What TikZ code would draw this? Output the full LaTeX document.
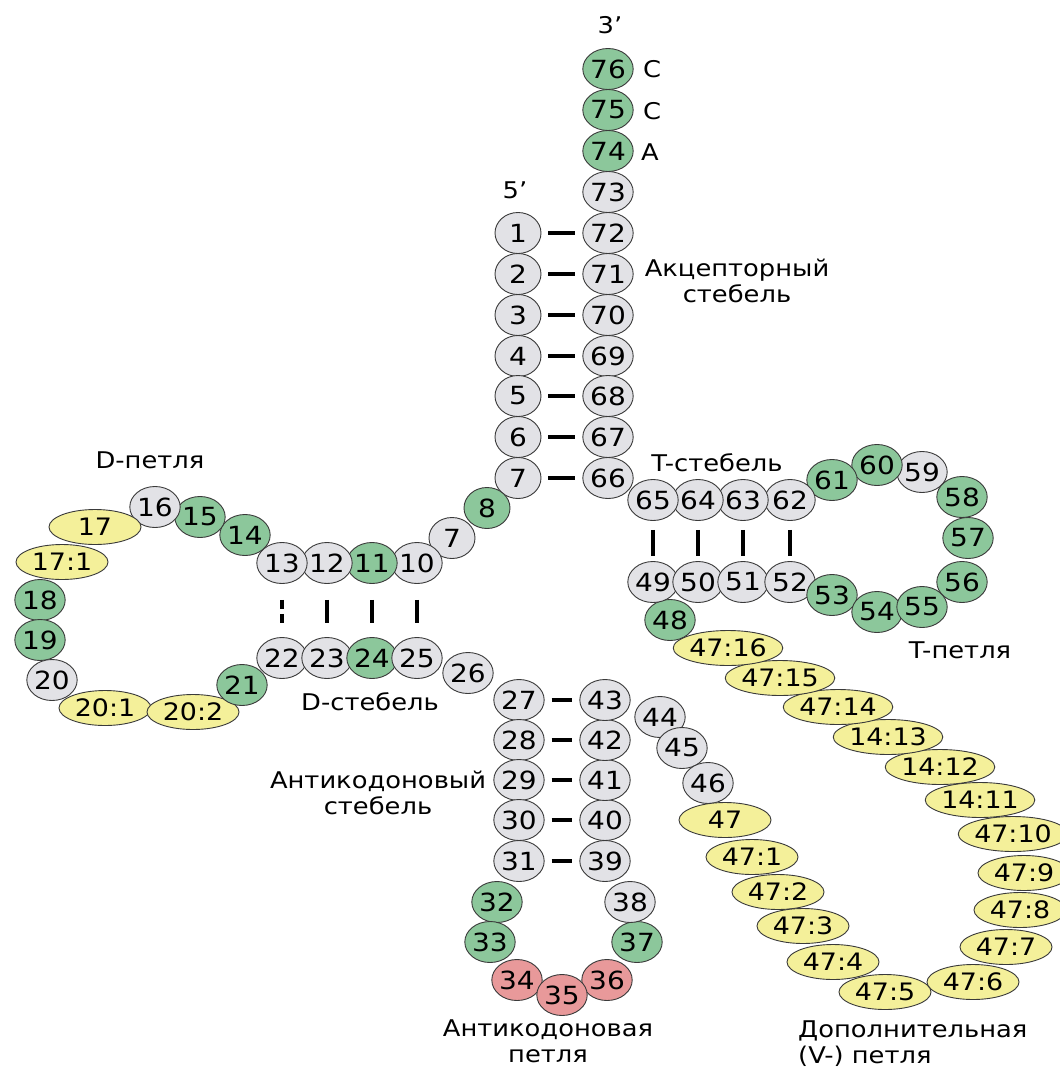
\documentclass[tikz,border=0pt]{standalone}
\usepackage{fontspec}
\setmainfont{DejaVu Sans}[FakeStretch=1.12]
\usetikzlibrary{shapes.geometric}
\definecolor{grfill}{HTML}{E2E2E6}
\definecolor{gnfill}{HTML}{8CC79B}
\definecolor{rdfill}{HTML}{E8999A}
\definecolor{ylfill}{HTML}{F4F09A}
\definecolor{edge}{HTML}{3A3A3A}
\begin{document}
\begin{tikzpicture}[x=1pt,y=-1pt,
  base/.style={ellipse,draw=edge,line width=0.9pt,inner sep=0pt,minimum width=46pt,minimum height=41pt,font=\fontsize{25}{25}\selectfont},
  gr/.style={base,fill=grfill},
  gn/.style={base,fill=gnfill},
  rd/.style={base,fill=rdfill},
  yl/.style={base,fill=ylfill,minimum width=92pt,minimum height=35pt,font=\fontsize{24}{24}\selectfont},
  pairh/.style={line width=3.2pt,shorten <=7pt,shorten >=7pt},
  pairv/.style={line width=3.2pt,shorten <=16pt,shorten >=14pt},
  pairt/.style={line width=3.2pt,shorten <=9pt,shorten >=5pt},
  lbl/.style={font=\fontsize{23}{26}\selectfont,align=center,inner sep=0pt}]
\useasboundingbox (0,0) rectangle (1060,1071);
\fill[white] (0,0) rectangle (1060,1071);

% acceptor stem
\node[gn] (n76) at (608,69) {76};
\node[gn] (n75) at (608,110) {75};
\node[gn] (n74) at (608,151) {74};
\node[gr] (n73) at (608,192) {73};
\node[gr] (n72) at (608,233) {72};
\node[gr] (n71) at (608,274) {71};
\node[gr] (n70) at (608,315) {70};
\node[gr] (n69) at (608,356) {69};
\node[gr] (n68) at (608,396) {68};
\node[gr] (n67) at (608,437) {67};
\node[gr] (n66) at (608,478) {66};
\node[gr] (n1) at (518,233) {1};
\node[gr] (n2) at (518,274) {2};
\node[gr] (n3) at (518,315) {3};
\node[gr] (n4) at (518,356) {4};
\node[gr] (n5) at (518,396) {5};
\node[gr] (n6) at (518,437) {6};
\node[gr] (n7) at (518,478) {7};

% D arm
\node[gn] (n8) at (487,508) {8};
\node[gr] (n9) at (452,538) {7};
\node[gr] (n10) at (417,563) {10};
\node[gn] (n11) at (372,563) {11};
\node[gr] (n12) at (327,563) {12};
\node[gr] (n13) at (282,563) {13};
\node[gn] (n14) at (245,535) {14};
\node[gn] (n15) at (200,517) {15};
\node[gr] (n16) at (155,507) {16};
\node[yl] (n17) at (95,527) {17};
\node[yl] (n171) at (62,562) {17:1};
\node[gn] (n18) at (40,600) {18};
\node[gn] (n19) at (40,640) {19};
\node[gr] (n20) at (52,680) {20};
\node[yl] (n201) at (105,708) {20:1};
\node[yl] (n202) at (193,712) {20:2};
\node[gn] (n21) at (242,685) {21};
\node[gr] (n22) at (282,658) {22};
\node[gr] (n23) at (327,658) {23};
\node[gn] (n24) at (372,658) {24};
\node[gr] (n25) at (417,658) {25};
\node[gr] (n26) at (468,673) {26};

% anticodon arm
\node[gr] (n27) at (519,700) {27};
\node[gr] (n28) at (519,740) {28};
\node[gr] (n29) at (519,780) {29};
\node[gr] (n30) at (519,820) {30};
\node[gr] (n31) at (519,861) {31};
\node[gn] (n32) at (497,902) {32};
\node[gn] (n33) at (490,942) {33};
\node[rd] (n34) at (517,980) {34};
\node[rd] (n36) at (607,980) {36};
\node[rd] (n35) at (562,995) {35};
\node[gn] (n37) at (637,942) {37};
\node[gr] (n38) at (630,902) {38};
\node[gr] (n39) at (605,861) {39};
\node[gr] (n40) at (605,820) {40};
\node[gr] (n41) at (605,780) {41};
\node[gr] (n42) at (605,740) {42};
\node[gr] (n43) at (605,700) {43};
\node[gr] (n44) at (660,717) {44};
\node[gr] (n45) at (682,748) {45};
\node[gr] (n46) at (708,783) {46};

% variable loop
\node[yl] (v47) at (725,820) {47};
\node[yl] (v471) at (752,857) {47:1};
\node[yl] (v472) at (778,892) {47:2};
\node[yl] (v473) at (803,926) {47:3};
\node[yl] (v474) at (833,962) {47:4};
\node[yl] (v476) at (973,982) {47:6};
\node[yl] (v475) at (885,992) {47:5};
\node[yl] (v477) at (1006,947) {47:7};
\node[yl] (v478) at (1020,910) {47:8};
\node[yl] (v479) at (1024,873) {47:9};
\node[yl] (v4710) at (1013,834) {47:10};
\node[yl] (v1411) at (980,800) {14:11};
\node[yl] (v1412) at (940,767) {14:12};
\node[yl] (v1413) at (888,737) {14:13};
\node[yl] (v4714) at (838,707) {47:14};
\node[yl] (v4715) at (780,678) {47:15};
\node[yl] (v4716) at (728,648) {47:16};

% T arm
\node[gn] (n48) at (670,620) {48};
\node[gr] (n49) at (653,582) {49};
\node[gr] (n50) at (698,582) {50};
\node[gr] (n51) at (743,582) {51};
\node[gr] (n52) at (790,582) {52};
\node[gn] (n53) at (832,595) {53};
\node[gn] (n54) at (877,612) {54};
\node[gn] (n55) at (922,607) {55};
\node[gn] (n56) at (962,582) {56};
\node[gn] (n57) at (968,538) {57};
\node[gn] (n58) at (962,497) {58};
\node[gr] (n59) at (922,472) {59};
\node[gn] (n60) at (877,465) {60};
\node[gn] (n61) at (832,480) {61};
\node[gr] (n62) at (790,500) {62};
\node[gr] (n63) at (743,500) {63};
\node[gr] (n64) at (698,500) {64};
\node[gr] (n65) at (653,500) {65};

% base pairs
\draw[pairh] (n1) -- (n72);
\draw[pairh] (n2) -- (n71);
\draw[pairh] (n3) -- (n70);
\draw[pairh] (n4) -- (n69);
\draw[pairh] (n5) -- (n68);
\draw[pairh] (n6) -- (n67);
\draw[pairh] (n7) -- (n66);
\draw[pairh] (n27) -- (n43);
\draw[pairh] (n28) -- (n42);
\draw[pairh] (n29) -- (n41);
\draw[pairh] (n30) -- (n40);
\draw[pairh] (n31) -- (n39);
\draw[pairv] (n10) -- (n25);
\draw[pairv] (n11) -- (n24);
\draw[pairv] (n12) -- (n23);
\draw[pairv,dash pattern=on 9pt off 5pt] (n13) -- (n22);
\draw[pairt] (n65) -- (n49);
\draw[pairt] (n64) -- (n50);
\draw[pairt] (n63) -- (n51);
\draw[pairt] (n62) -- (n52);

% labels
\node[lbl] (l3) at (610,25) {3'};
\node[lbl] (l5) at (515,190) {5'};
\node[lbl] (lc1) at (652,69) {C};
\node[lbl] (lc2) at (652,111) {C};
\node[lbl] (la) at (650,152) {A};
\node[lbl] (lacc) at (737,281) {Акцепторный\\стебель};
\node[lbl] (ltst) at (717,463) {T-стебель};
\node[lbl] (ldl) at (150,460) {D-петля};
\node[lbl] (ldst) at (370,702) {D-стебель};
\node[lbl] (lantst) at (378,793) {Антикодоновый\\стебель};
\node[lbl] (lantl) at (548,1041) {Антикодоновая\\петля};
\node[lbl] (ltl) at (960,650) {T-петля};
\node[lbl,align=left,anchor=west] (lv) at (798,1044) {Дополнительная\\(V-) петля};
\end{tikzpicture}
\end{document}
